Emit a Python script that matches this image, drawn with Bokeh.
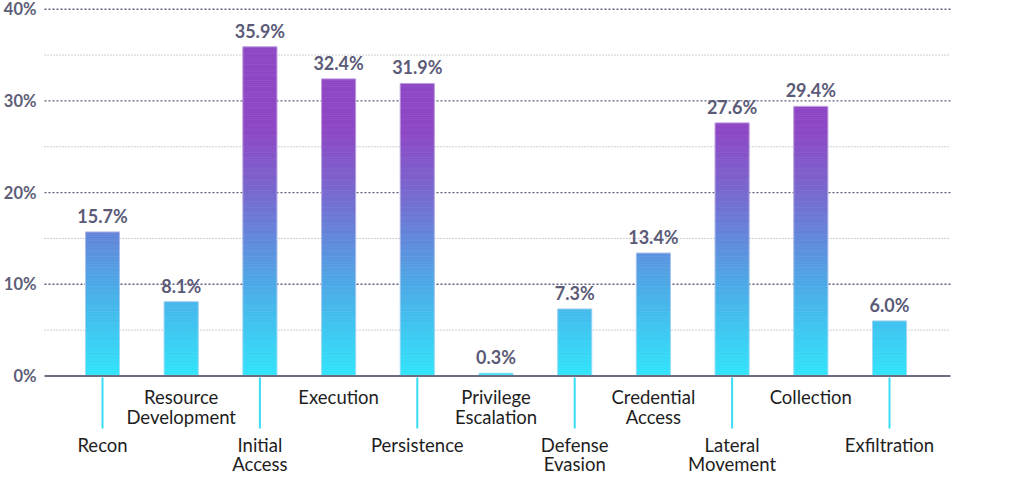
import numpy as np
from bokeh.plotting import figure
from bokeh.models import Range1d, ColumnDataSource
from bokeh.core.properties import value
from bokeh.embed import file_html
from bokeh.resources import INLINE

# ---- data ----
categories = ["Recon", "Resource\nDevelopment", "Initial\nAccess", "Execution", "Persistence",
              "Privilege\nEscalation", "Defense\nEvasion", "Credential\nAccess",
              "Lateral\nMovement", "Collection", "Exfiltration"]
values = [15.7, 8.1, 35.9, 32.4, 31.9, 0.3, 7.3, 13.4, 27.6, 29.4, 6.0]
value_labels = [f"{v:.1f}%" for v in values]
y_ticks = [0, 10, 20, 30, 40]
y_minor = [5, 15, 25, 35]
tick_labels = [f"{t}%" for t in y_ticks]

# ---- layout (pixel geometry) ----
W, H = 1024, 477
X0_PX, STEP_PX = 102.0, 78.7
Y0_PX, PX_PER_PCT = 375.5, 9.17

def dx(px):
    return (px - X0_PX) / STEP_PX

def dy(py):
    return (Y0_PX - py) / PX_PER_PCT

p = figure(width=W, height=H,
           x_range=Range1d(dx(0), dx(W)), y_range=Range1d(dy(H), dy(0)),
           x_axis_location=None, y_axis_location=None,
           output_backend="svg", toolbar_location=None,
           min_border=0, min_border_left=0, min_border_right=0,
           min_border_top=0, min_border_bottom=0)
p.grid.visible = False
p.outline_line_color = None
p.background_fill_color = "white"
p.border_fill_color = "white"

GRID_L, GRID_R = dx(44), dx(950)

# minor grid
p.segment(x0=[GRID_L] * len(y_minor), x1=[GRID_R] * len(y_minor), y0=y_minor, y1=y_minor,
          line_color="#9a9ab4", line_width=1, line_dash="1 2")
# major grid
maj = y_ticks[1:]
p.segment(x0=[GRID_L] * len(maj), x1=[GRID_R] * len(maj), y0=maj, y1=maj,
          line_color="#5e5e80", line_width=1.4, line_dash="2 2")

# gradient bars (sliced)
stops_v = [0, 10, 20, 27, 100]
stops_c = ["#30e5fb", "#4ca9e7", "#7868cf", "#8e47c4", "#8e47c4"]
rgb = np.array([[int(c[i:i + 2], 16) for i in (1, 3, 5)] for c in stops_c], dtype=float)

def grad(v):
    r = np.interp(v, stops_v, rgb[:, 0])
    g = np.interp(v, stops_v, rgb[:, 1])
    b = np.interp(v, stops_v, rgb[:, 2])
    return "#%02x%02x%02x" % (int(round(r)), int(round(g)), int(round(b)))

HW = 17.0 / STEP_PX
STEP = 0.2
L, R, B, T, C = [], [], [], [], []
for i, v in enumerate(values):
    b = 0.0
    while b < v - 1e-9:
        t = min(b + STEP, v)
        L.append(i - HW); R.append(i + HW)
        B.append(b); T.append(t)
        C.append(grad((b + t) / 2))
        b = t
p.quad(left=L, right=R, bottom=B, top=T, fill_color=C, line_color=C, line_width=0.7)

# subtle bar outline
idx = list(range(len(values)))
p.quad(left=[i - HW for i in idx], right=[i + HW for i in idx], bottom=[0] * len(values), top=values,
       fill_color=None, line_color="#e6ddf3", line_width=1, line_alpha=0.5)

# axis line at zero
p.segment(x0=[GRID_L], x1=[GRID_R], y0=[0], y1=[0], line_color="#6c6c84", line_width=2)

# cyan tick connectors under lower-row labels
low = [i for i in idx if i % 2 == 0]
p.segment(x0=low, x1=low, y0=[dy(377)] * len(low), y1=[dy(428)] * len(low),
          line_color="#38dcf6", line_width=2)

# value labels
p.text(x=idx, y=values, text=value_labels, text_align="center", text_baseline="bottom",
       y_offset=-5, text_font=value("Lato"), text_font_style="bold",
       text_font_size="18px", text_color="#5b5b78")

# y tick labels
p.text(x=[dx(36)] * len(y_ticks), y=y_ticks, text=tick_labels, text_align="right",
       text_baseline="middle", text_font=value("Lato"), text_font_style="bold",
       text_font_size="16.5px", text_color="#5e5e78")

# category labels (alternating rows)
lx = [i for i in idx if i % 2 == 0]
hx = [i for i in idx if i % 2 == 1]
p.text(x=lx, y=[dy(433)] * len(lx), text=[categories[i] for i in lx], text_align="center",
       text_baseline="top", text_line_height=0.9, text_font=value("Lato"),
       text_font_size="18.5px", text_color="#1e1e1e")
p.text(x=hx, y=[dy(385)] * len(hx), text=[categories[i] for i in hx], text_align="center",
       text_baseline="top", text_line_height=0.94, text_font=value("Lato"),
       text_font_size="18.5px", text_color="#1e1e1e")

open("out.html", "w").write(file_html(p, INLINE))
